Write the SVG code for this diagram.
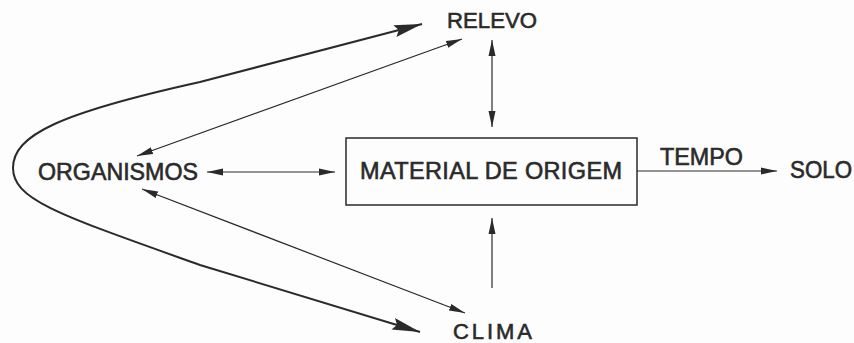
<svg xmlns="http://www.w3.org/2000/svg" width="854" height="343" viewBox="0 0 854 343">
<style>
text{font-family:"Liberation Sans",Arial,sans-serif;fill:#2a2a2a;stroke:#2a2a2a;stroke-width:0.6}
.thin{stroke:#2a2a2a;stroke-width:1.2;fill:none}
.thick{stroke:#2a2a2a;stroke-width:2;fill:none}
</style>
<defs>
<marker id="ah" markerUnits="userSpaceOnUse" markerWidth="18" markerHeight="10" refX="16" refY="4" orient="auto-start-reverse" viewBox="0 0 18 10">
<path d="M0,0.5 L16,4 L0,7.5 z" fill="#2a2a2a"/>
</marker>
<marker id="big" markerUnits="userSpaceOnUse" markerWidth="30" markerHeight="14" refX="28" refY="6" orient="auto-start-reverse" viewBox="0 0 30 14">
<path d="M0,0 L28,6 L0,12 L4,6 z" fill="#2a2a2a"/>
</marker>
</defs>
<rect width="854" height="343" fill="#fdfdfd"/>
<g id="connectors">
<path class="thick" d="M422,24 L200,82 C60,113 13,135 13,168 C13,200 60,215 200,265 L420,332" marker-start="url(#big)" marker-end="url(#big)"/>
<line class="thin" x1="462" y1="39" x2="137" y2="156" marker-start="url(#ah)" marker-end="url(#ah)"/>
<line class="thin" x1="142" y1="189" x2="465" y2="313" marker-start="url(#ah)" marker-end="url(#ah)"/>
<line class="thin" x1="207" y1="172" x2="335" y2="172" marker-start="url(#ah)" marker-end="url(#ah)"/>
<line class="thin" x1="492" y1="40" x2="492" y2="127" marker-start="url(#ah)" marker-end="url(#ah)"/>
<line class="thin" x1="492" y1="288" x2="492" y2="218" marker-end="url(#ah)"/>
<line class="thin" x1="637" y1="171" x2="777" y2="171" marker-end="url(#ah)"/>
</g>
<g id="relevo"><text x="447" y="27.5" font-size="22.5" textLength="90" lengthAdjust="spacingAndGlyphs">RELEVO</text></g>
<g id="organismos"><text x="38" y="180" font-size="24" textLength="160" lengthAdjust="spacingAndGlyphs">ORGANISMOS</text></g>
<g id="material">
<rect x="346" y="138" width="291" height="67" fill="none" stroke="#2a2a2a" stroke-width="1.5"/>
<text x="360" y="179" font-size="23.5" textLength="262" lengthAdjust="spacing">MATERIAL DE ORIGEM</text>
</g>
<g id="tempo"><text x="660" y="165" font-size="24" textLength="83" lengthAdjust="spacingAndGlyphs">TEMPO</text></g>
<g id="solo"><text x="790" y="178" font-size="23" textLength="62" lengthAdjust="spacingAndGlyphs">SOLO</text></g>
<g id="clima"><text x="453" y="339" font-size="22" textLength="79" lengthAdjust="spacing">CLIMA</text></g>
</svg>
